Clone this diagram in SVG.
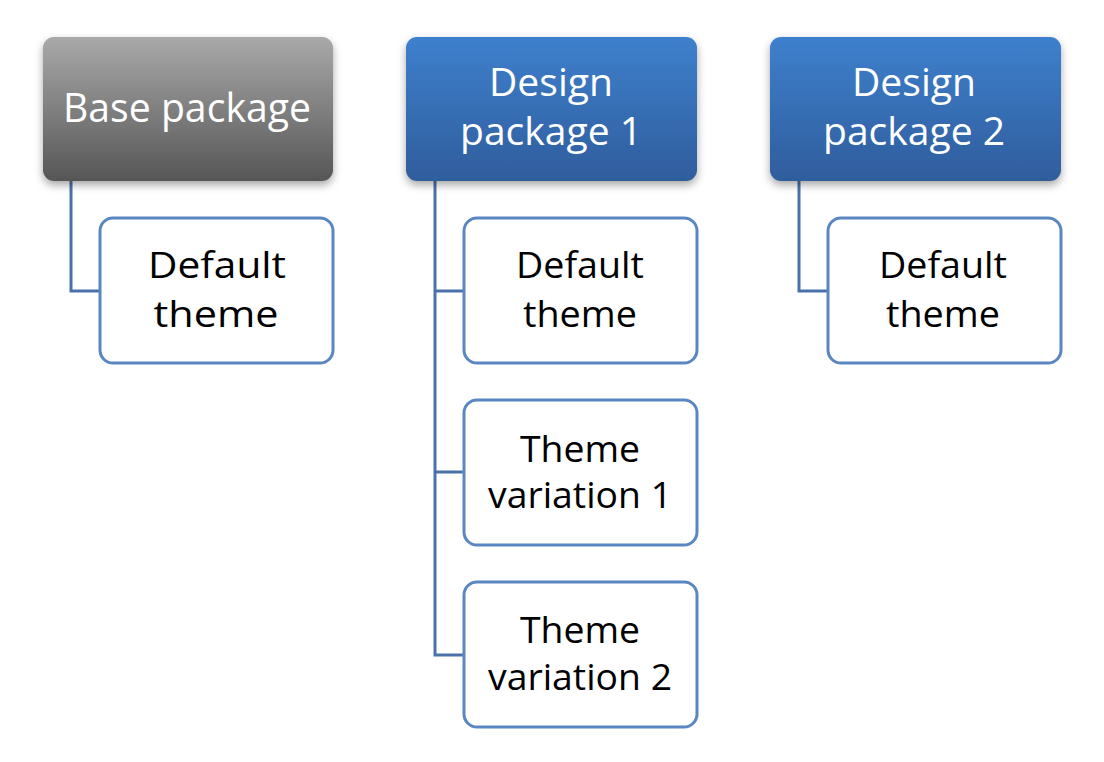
<svg xmlns="http://www.w3.org/2000/svg" width="1104" height="762" viewBox="0 0 1104 762">
<defs>
<linearGradient id="gGray" x1="0" y1="0" x2="0" y2="1">
<stop offset="0" stop-color="#a9a9a9"/>
<stop offset="1" stop-color="#565656"/>
</linearGradient>
<linearGradient id="gBlue" x1="0" y1="0" x2="0" y2="1">
<stop offset="0" stop-color="#3e80cd"/>
<stop offset="1" stop-color="#2f5d9c"/>
</linearGradient>
<filter id="shadow" x="-10%" y="-10%" width="120%" height="130%">
<feDropShadow dx="0" dy="4" stdDeviation="4" flood-color="#000" flood-opacity="0.35"/>
</filter>
</defs>
<style>
.head{filter:url(#shadow)}
.child{fill:#ffffff;stroke:#5a87c2;stroke-width:3}
.conn{fill:none;stroke:#4a72a8;stroke-width:3}
.ht{font-family:"Open Sans","Noto Sans",sans-serif;font-size:41px;fill:#ffffff;text-anchor:middle}
.ht2{font-family:"Open Sans","Noto Sans",sans-serif;font-size:37.5px;fill:#ffffff;text-anchor:middle}
.ct{font-family:"Open Sans","Noto Sans",sans-serif;font-size:37px;fill:#000000;text-anchor:middle}
</style>
<rect width="1104" height="762" fill="#ffffff"/>
<g id="connectors">
<path class="conn" d="M71,181 V291 H100"/>
<path class="conn" d="M435,181 V655 H464 M435,291 H464 M435,472 H464"/>
<path class="conn" d="M799,181 V291 H828"/>
</g>
<g id="base-package">
<rect class="head" x="43" y="37" width="290" height="144" rx="11" fill="url(#gGray)"/>
<text class="ht" x="187" y="122" textLength="248" lengthAdjust="spacingAndGlyphs">Base package</text>
</g>
<g id="design-package-1">
<rect class="head" x="406" y="37" width="291" height="144" rx="11" fill="url(#gBlue)"/>
<text class="ht2" x="551" y="96" textLength="124" lengthAdjust="spacingAndGlyphs">Design</text>
<text class="ht2" x="551" y="145" textLength="182" lengthAdjust="spacingAndGlyphs">package 1</text>
</g>
<g id="design-package-2">
<rect class="head" x="770" y="37" width="291" height="144" rx="11" fill="url(#gBlue)"/>
<text class="ht2" x="914" y="96" textLength="124" lengthAdjust="spacingAndGlyphs">Design</text>
<text class="ht2" x="914" y="145" textLength="182" lengthAdjust="spacingAndGlyphs">package 2</text>
</g>
<g id="base-default-theme">
<rect class="child" x="100" y="218" width="233" height="145" rx="13"/>
<text class="ct" x="217" y="278" textLength="138" lengthAdjust="spacingAndGlyphs">Default</text>
<text class="ct" x="216" y="327" textLength="125" lengthAdjust="spacingAndGlyphs">theme</text>
</g>
<g id="d1-default-theme">
<rect class="child" x="464" y="218" width="233" height="145" rx="13"/>
<text class="ct" x="580" y="278" textLength="128" lengthAdjust="spacingAndGlyphs">Default</text>
<text class="ct" x="580" y="327" textLength="114" lengthAdjust="spacingAndGlyphs">theme</text>
</g>
<g id="d1-theme-variation-1">
<rect class="child" x="464" y="400" width="233" height="145" rx="13"/>
<text class="ct" x="580" y="462" textLength="120" lengthAdjust="spacingAndGlyphs">Theme</text>
<text class="ct" x="580" y="508" textLength="184" lengthAdjust="spacingAndGlyphs">variation 1</text>
</g>
<g id="d1-theme-variation-2">
<rect class="child" x="464" y="582" width="233" height="145" rx="13"/>
<text class="ct" x="580" y="643" textLength="120" lengthAdjust="spacingAndGlyphs">Theme</text>
<text class="ct" x="580" y="690" textLength="184" lengthAdjust="spacingAndGlyphs">variation 2</text>
</g>
<g id="d2-default-theme">
<rect class="child" x="828" y="218" width="233" height="145" rx="13"/>
<text class="ct" x="943" y="278" textLength="128" lengthAdjust="spacingAndGlyphs">Default</text>
<text class="ct" x="943" y="327" textLength="114" lengthAdjust="spacingAndGlyphs">theme</text>
</g>
</svg>
